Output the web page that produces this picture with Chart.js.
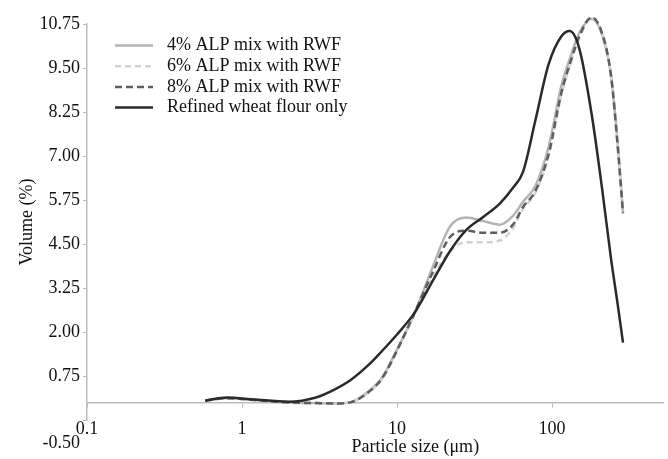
<!DOCTYPE html>
<html>
<head>
<meta charset="utf-8">
<script src="https://cdn.jsdelivr.net/npm/chart.js@4.4.1/dist/chart.umd.min.js"></script>
<style>
    html, body { margin: 0; padding: 0; background: #fff; }
    #wrap { width: 668px; height: 459px; }
</style>
</head>
<body>
<div id="wrap"><canvas id="myChart" width="668" height="459"></canvas></div>
<script>
// particle size (um) and volume (%)
var sizes = [0.58, 0.8, 1.2, 2, 3, 4, 5, 6.5, 8, 10, 13, 17, 22, 28, 36, 46, 56, 65, 78, 95, 115, 130, 150, 180, 210, 240, 265, 287];
var alp4 = [0.05, 0.12, 0.07, 0.0, -0.02, -0.03, 0.0, 0.3, 0.7, 1.5, 2.55, 3.85, 5.0, 5.25, 5.15, 5.05, 5.3, 5.7, 6.15, 7.25, 9.0, 9.75, 10.5, 10.9, 10.45, 9.3, 7.4, 5.4];
var alp6 = [0.05, 0.12, 0.07, 0.0, -0.02, -0.03, 0.0, 0.27, 0.66, 1.45, 2.5, 3.55, 4.3, 4.55, 4.55, 4.6, 4.95, 5.5, 5.95, 7.0, 8.75, 9.55, 10.35, 10.92, 10.5, 9.3, 7.3, 5.37];
var alp8 = [0.05, 0.12, 0.07, 0.0, -0.02, -0.03, 0.0, 0.28, 0.68, 1.48, 2.55, 3.7, 4.7, 4.88, 4.82, 4.82, 5.05, 5.55, 6.0, 7.05, 8.8, 9.6, 10.4, 10.94, 10.5, 9.3, 7.3, 5.37];
var rwf = [0.05, 0.14, 0.08, 0.02, 0.14, 0.38, 0.63, 1.05, 1.46, 1.93, 2.55, 3.45, 4.3, 4.9, 5.27, 5.65, 6.1, 6.55, 8.0, 9.6, 10.4, 10.55, 10.05, 8.2, 6.1, 4.1, 2.8, 1.7];

var seriesNames = ['4% ALP mix with RWF', '6% ALP mix with RWF', '8% ALP mix with RWF', 'Refined wheat flour only'];
var xTicks = [0.1, 1, 10, 100];
var xTitle = 'Particle size (\u03bcm)';
var yTitle = 'Volume (%)';
var yMinLabel = '-0.50';

var serif = '"Liberation Serif", "Times New Roman", serif';

function toPoints(values) {
    return sizes.map(function(s, i) { return {x: s, y: values[i]}; });
}

// legend inside the plot, x title and the lowest y label (sits lower in the original)
var extras = {
    id: 'extras',
    afterDraw: function(chart) {
        var ctx = chart.ctx;
        var area = chart.chartArea;
        ctx.save();
        ctx.font = '18px ' + serif;
        ctx.textBaseline = 'middle';
        ctx.fillStyle = '#111';
        chart.data.datasets.forEach(function(ds, i) {
            var y = area.top + 21.5 + i * 20.7;
            var x = area.left + 28;
            ctx.beginPath();
            ctx.strokeStyle = ds.borderColor;
            ctx.lineWidth = ds.borderWidth;
            ctx.setLineDash(ds.borderDash || []);
            ctx.moveTo(x, y);
            ctx.lineTo(x + 38, y);
            ctx.stroke();
            ctx.setLineDash([]);
            ctx.fillText(ds.label, x + 52, y);
        });
        ctx.textAlign = 'center';
        ctx.fillText(xTitle, area.left + 0.57 * (area.right - area.left), 447);
        ctx.textAlign = 'right';
        ctx.fillText(yMinLabel, area.left - 7, 443);
        ctx.restore();
    }
};

var ctx = document.getElementById('myChart');
var myChart = new Chart(ctx, {
    type: 'scatter',
    data: {
        datasets: [{
            label: seriesNames[0],
            data: toPoints(alp4),
            borderColor: '#b4b4b4',
            borderWidth: 2.5,
            order: 4
        }, {
            label: seriesNames[1],
            data: toPoints(alp6),
            borderColor: '#d2d2d2',
            borderWidth: 2.5,
            borderDash: [6, 4],
            order: 3
        }, {
            label: seriesNames[2],
            data: toPoints(alp8),
            borderColor: '#5e5e5e',
            borderWidth: 2.5,
            borderDash: [7, 4],
            order: 2
        }, {
            label: seriesNames[3],
            data: toPoints(rwf),
            borderColor: '#2a2a2a',
            borderWidth: 2.5,
            order: 1
        }]
    },
    options: {
        responsive: false,
        animation: false,
        devicePixelRatio: 1,
        showLine: true,
        clip: false,
        layout: {
            padding: {top: 24, bottom: 39, left: 16, right: 5}
        },
        elements: {
            point: { radius: 0, hoverRadius: 0 },
            line: { cubicInterpolationMode: 'monotone', fill: false }
        },
        plugins: {
            legend: { display: false },
            tooltip: { enabled: false }
        },
        scales: {
            x: {
                type: 'logarithmic',
                position: {y: 0},
                min: 0.1,
                max: 520,
                afterBuildTicks: function(axis) {
                    axis.ticks = xTicks.map(function(v) { return {value: v}; });
                },
                ticks: {
                    autoSkip: false,
                    maxRotation: 0,
                    padding: 12,
                    color: '#111',
                    font: { family: serif, size: 18 },
                    callback: function(value) { return String(value); }
                },
                grid: {
                    drawOnChartArea: false,
                    tickLength: 4,
                    color: '#bdbdbd'
                },
                border: { color: '#bdbdbd', width: 1.5 }
            },
            y: {
                min: -0.5,
                max: 10.75,
                afterFit: function(axis) {
                    axis.width = 71;
                },
                ticks: {
                    stepSize: 1.25,
                    padding: 3,
                    color: '#111',
                    font: { family: serif, size: 18 },
                    callback: function(value) {
                        return value === -0.5 ? '' : Number(value).toFixed(2);
                    }
                },
                grid: {
                    drawOnChartArea: false,
                    tickLength: 4,
                    color: '#bdbdbd'
                },
                border: { color: '#bdbdbd', width: 1.5 },
                title: {
                    display: true,
                    text: yTitle,
                    color: '#111',
                    font: { family: serif, size: 18 },
                    padding: {top: 0, bottom: 2}
                }
            }
        }
    },
    plugins: [extras]
});
</script>
</body>
</html>
